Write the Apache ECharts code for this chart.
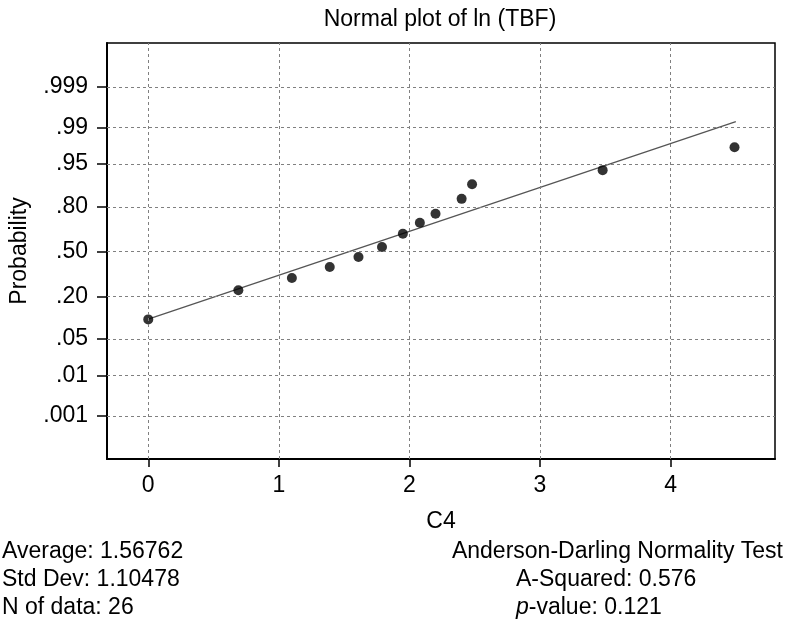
<!DOCTYPE html>
<html>
<head>
<meta charset="utf-8">
<script src="https://cdn.jsdelivr.net/npm/echarts@6/dist/echarts.min.js"></script>
<style>
html,body{margin:0;padding:0;background:#fff;}
#chart{width:785px;height:622px;}
</style>
</head>
<body>
<div id="chart"></div>
<script>
// ---- data ----
const chartTitle = 'Normal plot of ln (TBF)';
const xName = 'C4';
const yName = 'Probability';
// ln(TBF) values of plotted points
const xValues = [0, 0.69, 1.10, 1.39, 1.61, 1.79, 1.95, 2.08, 2.20, 2.40, 2.48, 3.48, 4.49];
// plotted cumulative probabilities
const probValues = [0.101, 0.233, 0.309, 0.386, 0.459, 0.534, 0.631, 0.706, 0.761, 0.839, 0.897, 0.937, 0.975];
// fitted line end points
const fitX = [0, 4.5];
const fitProb = [0.102, 0.9927];
// axis ticks
const xTicks = [0, 1, 2, 3, 4];
const yTickProbs = [0.001, 0.01, 0.05, 0.20, 0.50, 0.80, 0.95, 0.99, 0.999];
const yTickLabels = ['.001', '.01', '.05', '.20', '.50', '.80', '.95', '.99', '.999'];
// statistics text
const statsLeft = ['Average: 1.56762', 'Std Dev: 1.10478', 'N of data: 26'];
const statsRightTitle = 'Anderson-Darling Normality Test';
const statsRight = ['A-Squared: 0.576', '-value: 0.121'];

// inverse standard normal CDF (probability-paper scale)
function invNorm(p){
  const a=[-3.969683028665376e+01,2.209460984245205e+02,-2.759285104469687e+02,1.383577518672690e+02,-3.066479806614716e+01,2.506628277459239e+00];
  const b=[-5.447609879822406e+01,1.615858368580409e+02,-1.556989798598866e+02,6.680131188771972e+01,-1.328068155288572e+01];
  const c=[-7.784894002430293e-03,-3.223964580411365e-01,-2.400758277161838e+00,-2.549732539343734e+00,4.374664141464968e+00,2.938163982698783e+00];
  const d=[7.784695709041462e-03,3.224671290700398e-01,2.445134137142996e+00,3.754408661907416e+00];
  const pl=0.02425, ph=1-pl; let q,r;
  if(p<pl){q=Math.sqrt(-2*Math.log(p));return (((((c[0]*q+c[1])*q+c[2])*q+c[3])*q+c[4])*q+c[5])/((((d[0]*q+d[1])*q+d[2])*q+d[3])*q+1);}
  if(p<=ph){q=p-0.5;r=q*q;return (((((a[0]*r+a[1])*r+a[2])*r+a[3])*r+a[4])*r+a[5])*q/(((((b[0]*r+b[1])*r+b[2])*r+b[3])*r+b[4])*r+1);}
  q=Math.sqrt(-2*Math.log(1-p));return -(((((c[0]*q+c[1])*q+c[2])*q+c[3])*q+c[4])*q+c[5])/((((d[0]*q+d[1])*q+d[2])*q+d[3])*q+1);
}

const FONT = '"Liberation Sans", Arial, Helvetica, sans-serif';
const FS = 23;
const yTickZ = yTickProbs.map(invNorm);
const points = xValues.map((x, i) => [x, invNorm(probValues[i])]);
const fitLine = fitX.map((x, i) => [x, invNorm(fitProb[i])]);
const gridStyle = {type: [3, 3], color: '#808080', width: 1};
const txt = (text, x, y, align, extra) => ({type: 'text', x: x, y: y, silent: true,
  style: Object.assign({text: text, font: FS + 'px ' + FONT, fill: '#000', textAlign: align, textVerticalAlign: 'middle'}, extra || {})});

const chart = echarts.init(document.getElementById('chart'), null, {renderer: 'canvas'});
chart.setOption({
  animation: false,
  backgroundColor: '#fff',
  textStyle: {fontFamily: FONT},
  grid: {left: 106, right: 10, top: 43, bottom: 163, show: true, borderColor: '#000', borderWidth: 1.5, backgroundColor: 'transparent'},
  xAxis: {
    type: 'value', min: -0.316, max: 4.80,
    name: xName, nameLocation: 'middle', nameGap: 51,
    nameTextStyle: {fontSize: FS, color: '#000', fontFamily: FONT},
    axisLine: {show: true, onZero: false, lineStyle: {color: '#000', width: 2}},
    axisTick: {show: true, length: 8, customValues: xTicks, lineStyle: {color: '#000', width: 1.5}},
    axisLabel: {customValues: xTicks, fontSize: FS, color: '#000', margin: 15, fontFamily: FONT},
    splitLine: {show: false}
  },
  yAxis: {
    type: 'value', min: -3.90, max: 3.92,
    name: yName, nameLocation: 'middle', nameGap: 76, nameRotate: 90,
    nameTextStyle: {fontSize: FS, color: '#000', fontFamily: FONT},
    axisLine: {show: true, onZero: false, lineStyle: {color: '#000', width: 2}},
    axisTick: {show: true, length: 10, customValues: yTickZ, lineStyle: {color: '#000', width: 1.5}},
    axisLabel: {customValues: yTickZ, fontSize: FS, color: '#000', margin: 19, fontFamily: FONT,
      formatter: function(v){
        for (let i = 0; i < yTickZ.length; i++) if (Math.abs(yTickZ[i] - v) < 1e-6) return yTickLabels[i];
        return '';
      }},
    splitLine: {show: false}
  },
  graphic: [
    txt(chartTitle, 440, 19.5, 'center'),
    txt(statsLeft[0], 2, 552, 'left'),
    txt(statsLeft[1], 2, 580, 'left'),
    txt(statsLeft[2], 2, 608, 'left'),
    txt(statsRightTitle, 783, 552, 'right'),
    txt(statsRight[0], 516, 580, 'left'),
    txt('{i|p}' + statsRight[1], 516, 608, 'left',
      {rich: {i: {fontStyle: 'italic', fontSize: FS, fontFamily: FONT, fill: '#000'}}})
  ],
  series: [
    {
      type: 'line', data: fitLine, showSymbol: false, silent: true, z: 2,
      lineStyle: {color: '#555', width: 1.3},
      markLine: {
        silent: true, symbol: ['none', 'none'], label: {show: false}, animation: false,
        lineStyle: gridStyle, emphasis: {disabled: true},
        data: xTicks.map(v => ({xAxis: v})).concat(yTickZ.map(z => ({yAxis: z})))
      }
    },
    {
      type: 'scatter', data: points, symbol: 'circle', symbolSize: 10, z: 3,
      itemStyle: {color: '#000'}
    }
  ]
});
</script>
</body>
</html>
